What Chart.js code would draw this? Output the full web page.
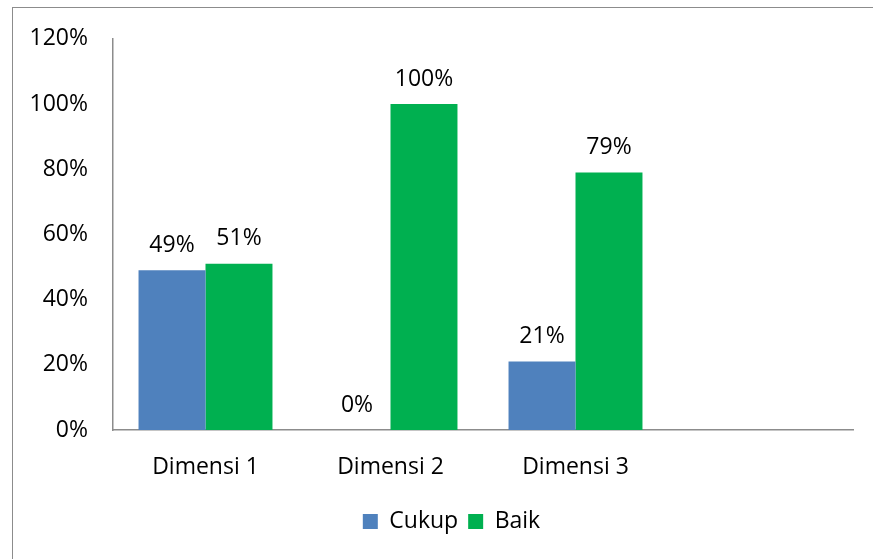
<!DOCTYPE html>
<html>
<head>
<meta charset="utf-8">
<script src="https://cdn.jsdelivr.net/npm/chart.js@4.4.1/dist/chart.umd.min.js"></script>
<style>
  html, body { margin: 0; padding: 0; background: #fff; }
  #wrap { position: relative; width: 873px; height: 559px; overflow: hidden; }
  #frame { position: absolute; left: 12px; top: 7px; width: 900px; height: 600px; border: 1.5px solid #8c8c8c; box-sizing: border-box; }
  canvas { position: absolute; left: 0; top: 0; }
</style>
</head>
<body>
<div id="wrap">
  <div id="frame"></div>
  <canvas id="c" width="873" height="559"></canvas>
</div>
<script>
const categories = ["Dimensi 1", "Dimensi 2", "Dimensi 3", ""];
const cukupValues = [49, 0, 21, null];
const baikValues = [51, 100, 79, null];
const seriesNames = ["Cukup", "Baik"];
const yTicks = [0, 20, 40, 60, 80, 100, 120];

const FONT = "'Open Sans', sans-serif";
const FS = 23;

const valueLabels = {
  id: 'valueLabels',
  afterDatasetsDraw(chart) {
    const ctx = chart.ctx;
    ctx.save();
    ctx.font = FS + "px " + FONT;
    ctx.fillStyle = "#000";
    ctx.textAlign = "center";
    ctx.textBaseline = "middle";
    chart.data.datasets.forEach((ds, i) => {
      const meta = chart.getDatasetMeta(i);
      meta.data.forEach((el, j) => {
        const v = ds.data[j];
        if (v === null || v === undefined) return;
        ctx.fillText(v + "%", el.x, el.y - 25);
      });
    });
    ctx.restore();
  }
};

const legendShift = {
  id: 'legendShift',
  afterLayout(chart) {
    if (chart.legend) { chart.legend.left = 50; }
  }
};

new Chart(document.getElementById('c'), {
  type: 'bar',
  data: {
    labels: categories,
    datasets: [
      { label: seriesNames[0], data: cukupValues, backgroundColor: '#4F81BD', borderWidth: 0 },
      { label: seriesNames[1], data: baikValues, backgroundColor: '#00B050', borderWidth: 0 }
    ]
  },
  options: {
    responsive: false,
    animation: false,
    devicePixelRatio: 1,
    categoryPercentage: 0.724,
    barPercentage: 1,
    layout: { padding: { left: 0, right: 20, top: 38, bottom: 16 } },
    plugins: {
      tooltip: { enabled: false },
      legend: {
        position: 'bottom',
        labels: {
          font: { family: FONT, size: FS },
          color: '#000',
          boxWidth: 15,
          boxHeight: 15,
          padding: 10
        }
      }
    },
    scales: {
      x: {
        grid: { display: false, drawTicks: false },
        border: { display: true, color: '#8c8c8c', width: 1.5 },
        ticks: { font: { family: FONT, size: FS }, color: '#000', padding: 24 },
        afterFit(scale) { scale.height = 70; }
      },
      y: {
        min: 0, max: 120,
        afterBuildTicks(scale) { scale.ticks = yTicks.map(v => ({ value: v })); },
        grid: { display: false, drawTicks: false },
        border: { display: true, color: '#8c8c8c', width: 1.5 },
        ticks: {
          font: { family: FONT, size: FS }, color: '#000', padding: 25,
          callback: v => v + '%'
        },
        afterFit(scale) { scale.width = 113; }
      }
    }
  },
  plugins: [valueLabels, legendShift]
});
</script>
</body>
</html>
